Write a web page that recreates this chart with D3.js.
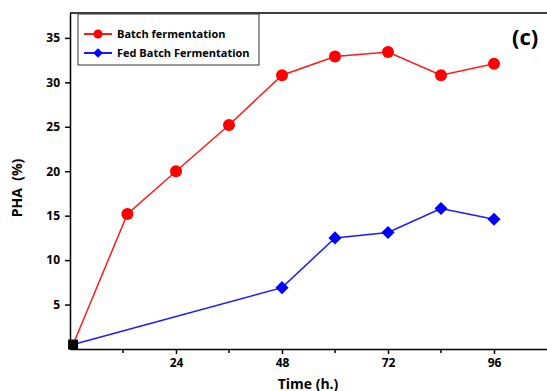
<!DOCTYPE html>
<html lang="en">
<head>
<meta charset="utf-8">
<title>PHA</title>
<script src="https://d3js.org/d3.v7.min.js"></script>
<style>
body { margin: 0; background: #fff; }
text { font-family: "Open Sans", sans-serif; font-weight: bold; }
</style>
</head>
<body>
<script>
// data
var startPoint = [0.7, 0.5];
var batchTime = [13, 24, 36, 48, 60, 72, 84, 96];
var batchPHA = [15.2, 20.0, 25.2, 30.8, 32.9, 33.4, 30.8, 32.1];
var fedTime = [48, 60, 72, 84, 96];
var fedPHA = [6.9, 12.5, 13.1, 15.8, 14.6];
var xTicks = [24, 48, 72, 96];
var xMinor = [12, 36, 60, 84];
var yTicks = [5, 10, 15, 20, 25, 30, 35];

var W = 547, H = 391;
var mLeft = 70, mTop = 13, mBottom = 349, mRight = 547;

var svg = d3.select("body").append("svg").attr("width", W).attr("height", H);

var x = d3.scaleLinear().domain([0, 108]).range([mLeft, mRight]);
var y = d3.scaleLinear().domain([0, 37.8]).range([mBottom, mTop]);

// frame top line
svg.append("line").attr("x1", mLeft).attr("x2", mRight).attr("y1", mTop).attr("y2", mTop)
  .attr("stroke", "#000").attr("stroke-width", 1.5);

var yAxis = svg.append("g").attr("transform", "translate(" + mLeft + ",0)")
  .call(d3.axisLeft(y).tickValues(yTicks).tickSize(5).tickPadding(5).tickSizeOuter(0));
var xAxis = svg.append("g").attr("transform", "translate(0," + mBottom + ")")
  .call(d3.axisBottom(x).tickValues(xTicks).tickSize(5).tickPadding(4).tickSizeOuter(0));
xAxis.selectAll(".minor").data(xMinor).enter().append("line")
  .attr("x1", function(d) { return x(d); }).attr("x2", function(d) { return x(d); })
  .attr("y1", 0).attr("y2", 4).attr("stroke", "#000").attr("stroke-width", 1.5);

[yAxis, xAxis].forEach(function(a) {
  a.select(".domain").attr("stroke-width", 1.5);
  a.selectAll(".tick line").attr("stroke-width", 1.5);
  a.selectAll("text").style("font-size", "12px").style("font-weight", "bold").attr("fill", "#000");
});

svg.append("text").attr("transform", "translate(22," + 188 + ") rotate(-90)")
  .attr("text-anchor", "middle").style("font-size", "14px").text("PHA\u00a0\u00a0(%)");
svg.append("text").attr("x", 308).attr("y", 389)
  .attr("text-anchor", "middle").style("font-size", "14px").text("Time (h.)");

var line = d3.line().x(function(d) { return x(d[0]); }).y(function(d) { return y(d[1]); });

var batch = [startPoint].concat(batchTime.map(function(t, i) { return [t, batchPHA[i]]; }));
var fed = [startPoint].concat(fedTime.map(function(t, i) { return [t, fedPHA[i]]; }));

svg.append("path").datum(batch).attr("d", line).attr("fill", "none").attr("stroke", "#ff1a1a").attr("stroke-width", 1.5);
svg.append("path").datum(fed).attr("d", line).attr("fill", "none").attr("stroke", "#1a1aff").attr("stroke-width", 1.5);

svg.selectAll(".bdot").data(batch.slice(1)).enter().append("circle")
  .attr("cx", function(d) { return x(d[0]); }).attr("cy", function(d) { return y(d[1]); })
  .attr("r", 6).attr("fill", "#ff0000");

var diamond = d3.symbol().type(d3.symbolDiamond2).size(110);
svg.selectAll(".fdot").data(fed.slice(1)).enter().append("path")
  .attr("transform", function(d) { return "translate(" + x(d[0]) + "," + y(d[1]) + ")"; })
  .attr("d", diamond).attr("fill", "#0000ff");

svg.append("rect").attr("x", x(startPoint[0]) - 5).attr("y", y(startPoint[1]) - 5)
  .attr("width", 10).attr("height", 10).attr("fill", "#000");

// legend
var lg = svg.append("g");
lg.append("rect").attr("x", 78).attr("y", 14).attr("width", 181).attr("height", 51)
  .attr("fill", "#fff").attr("stroke", "#333").attr("stroke-width", 1);
lg.append("line").attr("x1", 84).attr("x2", 112).attr("y1", 34).attr("y2", 34).attr("stroke", "#ff1a1a").attr("stroke-width", 2);
lg.append("circle").attr("cx", 98).attr("cy", 34).attr("r", 4.5).attr("fill", "#ff0000");
lg.append("line").attr("x1", 84).attr("x2", 112).attr("y1", 53).attr("y2", 53).attr("stroke", "#1a1aff").attr("stroke-width", 2);
lg.append("path").attr("transform", "translate(98,53)").attr("d", d3.symbol().type(d3.symbolDiamond2).size(60)).attr("fill", "#0000ff");
lg.append("text").attr("x", 117).attr("y", 38).style("font-size", "11px").text("Batch fermentation");
lg.append("text").attr("x", 117).attr("y", 57).style("font-size", "11px").text("Fed Batch Fermentation");

svg.append("text").attr("x", 512).attr("y", 45).style("font-size", "22px").text("(c)");
</script>
</body>
</html>
